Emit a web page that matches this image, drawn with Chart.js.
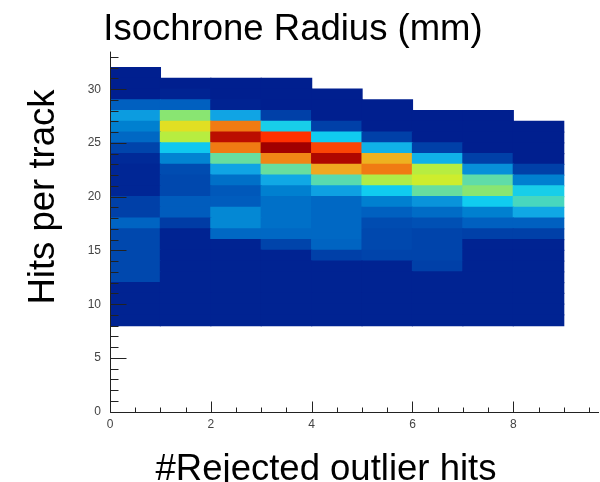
<!DOCTYPE html>
<html>
<head>
<meta charset="utf-8">
<title>Hits per track vs rejected outlier hits</title>
<script src="https://cdn.jsdelivr.net/npm/chart.js@4.4.1/dist/chart.umd.min.js"></script>
<style>
    html, body { margin: 0; padding: 0; background: #fff; }
    #wrap { width: 600px; height: 482px; }
</style>
</head>
<body>
<div id="wrap"><canvas id="hitsChart" width="600" height="482"></canvas></div>
<script>
// x bins: number of rejected outlier hits, bin k covers [k, k+1)
const rejectedBins = [0, 1, 2, 3, 4, 5, 6, 7, 8];
// hits-per-track bins are one unit wide and start at 8
const firstHitsBin = 8;

// bin contents of each rejected-hits column, listed from 8 hits upward
const rejected0 = [4, 4, 4, 4, 14, 14, 14, 14, 14, 21, 12, 12, 5, 5, 5, 6, 13, 22, 28, 35, 20, 3, 3, 3];
const rejected1 = [4, 4, 4, 4, 4, 4, 4, 4, 4, 11, 19, 19, 14, 14, 15, 29, 45, 68, 75, 62, 20, 4, 3];
const rejected2 = [4, 4, 4, 4, 4, 4, 4, 4, 22, 30, 30, 19, 18, 24, 37, 57, 86, 98, 86, 37, 4, 3, 3];
const rejected3 = [4, 4, 4, 4, 4, 4, 4, 13, 22, 24, 24, 24, 28, 38, 57, 85, 100, 93, 47, 12, 3, 3, 3];
const rejected4 = [4, 4, 4, 4, 4, 4, 12, 21, 22, 22, 22, 22, 36, 55, 82, 99, 91, 46, 12, 3, 3, 3];
const rejected5 = [4, 4, 4, 4, 4, 4, 13, 14, 14, 15, 20, 28, 46, 67, 86, 81, 40, 12, 3, 3, 3];
const rejected6 = [4, 4, 4, 4, 4, 12, 13, 13, 13, 16, 23, 33, 57, 71, 68, 40, 12, 3, 3, 3];
const rejected7 = [4, 4, 4, 4, 4, 4, 4, 4, 12, 20, 28, 46, 62, 56, 32, 12, 3, 3, 3, 3];
const rejected8 = [4, 4, 4, 4, 4, 4, 4, 4, 12, 20, 38, 53, 47, 28, 12, 3, 3, 3, 3];
const columns = [rejected0, rejected1, rejected2, rejected3, rejected4, rejected5, rejected6, rejected7, rejected8];

const xTickValues = [0, 2, 4, 6, 8];
const yTickValues = [0, 5, 10, 15, 20, 25, 30];

const FONT = '"Liberation Sans", Arial, sans-serif';

// rainbow palette, content -> colour
const paletteStops = [
    [0, 0, 20, 135],
    [12, 0, 64, 168],
    [20, 0, 96, 192],
    [28, 0, 128, 208],
    [37, 16, 164, 228],
    [46, 16, 204, 240],
    [56, 96, 220, 168],
    [64, 150, 232, 96],
    [70, 200, 240, 48],
    [76, 230, 220, 32],
    [82, 240, 168, 32],
    [87, 240, 112, 16],
    [93, 255, 48, 0],
    [100, 160, 0, 0]
];

function rainbow(v) {
    for (let i = 1; i < paletteStops.length; i++) {
        const a = paletteStops[i - 1], b = paletteStops[i];
        if (v <= b[0]) {
            const t = Math.max(0, (v - a[0]) / (b[0] - a[0]));
            const c = [1, 2, 3].map(k => Math.round(a[k] + (b[k] - a[k]) * t));
            return `rgb(${c[0]}, ${c[1]}, ${c[2]})`;
        }
    }
    const last = paletteStops[paletteStops.length - 1];
    return `rgb(${last[1]}, ${last[2]}, ${last[3]})`;
}

// one dataset per hits bin, floating bars span [bin, bin + 1]
const datasets = [];
const topBin = firstHitsBin + Math.max(...columns.map(c => c.length));
for (let b = firstHitsBin; b < topBin; b++) {
    const data = [];
    columns.forEach((col, i) => {
        const v = col[b - firstHitsBin];
        if (v !== undefined) {
            data.push({ x: rejectedBins[i] + 0.5, y: [b, b + 1], v: v });
        }
    });
    datasets.push({
        label: "hits " + b,
        data: data,
        backgroundColor: c => rainbow(c.raw ? c.raw.v : 0),
        borderWidth: 0,
        inflateAmount: 0.6, // close the hairline seams between neighbouring cells
        barPercentage: 1,
        categoryPercentage: 1,
        grouped: false
    });
}

// axis lines with inward ticks, drawn over the cells
const frameTicks = {
    id: "frameTicks",
    afterDatasetsDraw(chart) {
        const { ctx, chartArea: area, scales: { x, y } } = chart;
        const x0 = Math.round(x.getPixelForValue(0)) + 0.5;
        const y0 = Math.round(y.getPixelForValue(0)) + 0.5;
        ctx.save();
        ctx.strokeStyle = "#222";
        ctx.lineWidth = 1;
        ctx.beginPath();
        ctx.moveTo(x0, area.top);
        ctx.lineTo(x0, y0);
        ctx.lineTo(area.right, y0);
        for (let v = 0; v <= y.max; v += 1) {
            const py = Math.round(y.getPixelForValue(v)) + 0.5;
            const len = v % 5 === 0 ? 16 : 8;
            ctx.moveTo(x0, py);
            ctx.lineTo(x0 + len, py);
        }
        for (let v = 0; v <= x.max; v += 0.5) {
            const px = Math.round(x.getPixelForValue(v)) + 0.5;
            const len = v % 2 === 0 ? 11 : 5;
            ctx.moveTo(px, y0);
            ctx.lineTo(px, y0 - len);
        }
        ctx.stroke();
        ctx.restore();
    }
};

// title and axis titles
const titles = {
    id: "titles",
    afterDraw(chart) {
        const ctx = chart.ctx;
        ctx.save();
        ctx.fillStyle = "#000";
        ctx.font = "36.5px " + FONT;
        ctx.textAlign = "center";
        ctx.textBaseline = "alphabetic";
        ctx.fillText("Isochrone Radius (mm)", 293, 40);
        ctx.fillText("#Rejected outlier hits", 326, 480);
        ctx.translate(54, 197);
        ctx.rotate(-Math.PI / 2);
        ctx.fillText("Hits per track", 0, 0);
        ctx.restore();
    }
};

const tickFont = { family: FONT, size: 12 };

new Chart(document.getElementById("hitsChart"), {
    type: "bar",
    data: { datasets: datasets },
    options: {
        responsive: false,
        devicePixelRatio: 1,
        animation: false,
        layout: { padding: { top: 51.6, right: 1, left: 0, bottom: 0 } },
        plugins: {
            legend: { display: false },
            tooltip: { enabled: false },
            title: { display: false }
        },
        scales: {
            x: {
                type: "linear",
                min: 0,
                max: 9.7,
                offset: false,
                grid: { display: false, drawTicks: false },
                border: { display: false },
                ticks: { padding: 6, color: "#444", font: tickFont },
                afterBuildTicks: s => { s.ticks = xTickValues.map(v => ({ value: v })); },
                afterFit: s => { s.height = 70.3; }
            },
            y: {
                type: "linear",
                min: 0,
                max: 33.5,
                grid: { display: false, drawTicks: false },
                border: { display: false },
                ticks: { padding: 9, color: "#444", font: tickFont },
                afterBuildTicks: s => { s.ticks = yTickValues.map(v => ({ value: v })); },
                afterFit: s => { s.width = 110; }
            }
        }
    },
    plugins: [frameTicks, titles]
});
</script>
</body>
</html>
